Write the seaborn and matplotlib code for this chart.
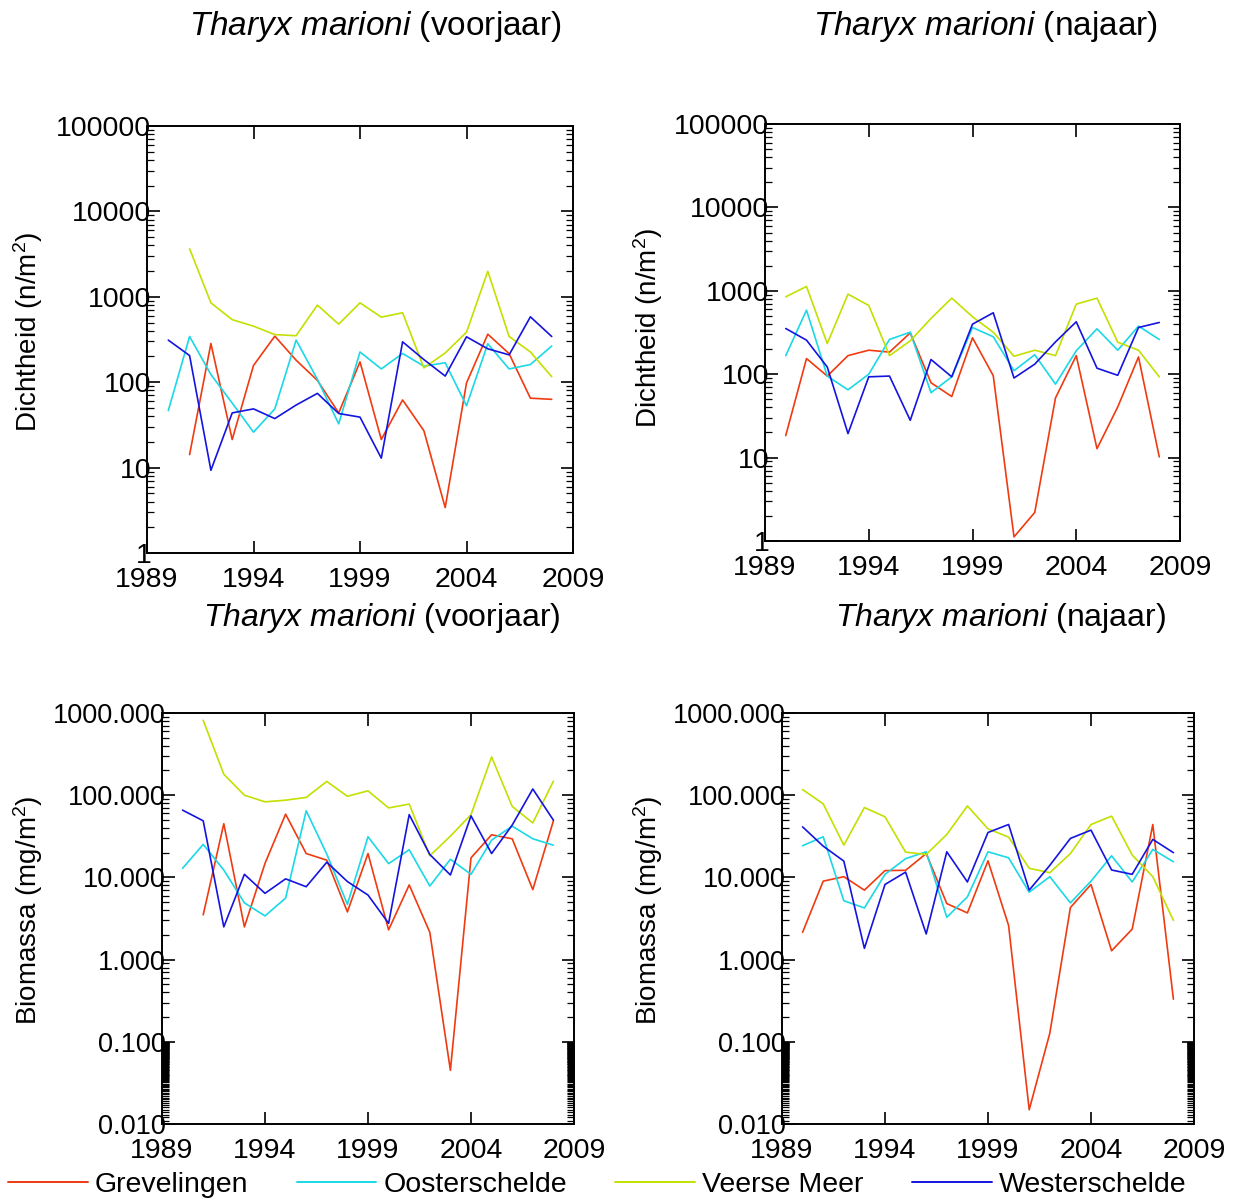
import numpy as np
import pandas as pd
import matplotlib
matplotlib.use("Agg")
import matplotlib.pyplot as plt
import matplotlib.ticker as mticker
from matplotlib.lines import Line2D
import seaborn as sns

nan = np.nan
years = list(range(1990, 2009))
areas = ["Grevelingen", "Oosterschelde", "Veerse Meer", "Westerschelde"]
colors = {"Grevelingen": "#f03a10", "Oosterschelde": "#1ad8e6",
          "Veerse Meer": "#c4e000", "Westerschelde": "#1414e0"}

# Dichtheid voorjaar (n/m2)
dens_spring_grev = [nan, 14.2, 284, 21.3, 157, 346, 181, 105, 43.7, 173, 21.3, 62, 27, 3.4, 98, 365, 216, 65, 63]
dens_spring_oost = [46.5, 343, 123, 57, 26, 48.7, 311, 108, 32.5, 226, 143, 217, 154, 169, 53, 282, 143, 161, 265]
dens_spring_veer = [nan, 3650, 850, 540, 453, 361, 350, 800, 478, 850, 578, 650, 147, 220, 385, 1990, 343, 226, 116]
dens_spring_west = [311, 205, 9.3, 43.7, 48.7, 37.5, 54, 74, 43, 39, 12.9, 297, 184, 118, 340, 246, 209, 583, 343]

# Dichtheid najaar (n/m2)
dens_autumn_grev = [18.4, 154, 95, 167, 194, 184, 313, 79, 54, 273, 96, 1.12, 2.2, 52, 167, 12.8, 40.5, 161, 10.2]
dens_autumn_oost = [167, 586, 95, 65, 100, 261, 319, 60, 93, 363, 281, 110, 171, 76, 191, 350, 194, 377, 261]
dens_autumn_veer = [847, 1127, 233, 912, 667, 167, 251, 466, 817, 488, 319, 164, 194, 167, 692, 817, 242, 194, 93]
dens_autumn_west = [353, 256, 122, 19.4, 93, 95, 28, 150, 93, 398, 545, 90, 132, 244, 425, 118, 97, 363, 417]

# Biomassa voorjaar (mg/m2)
bio_spring_grev = [nan, 3.5, 45, 2.5, 14.8, 58.8, 19.5, 16.2, 3.8, 19.5, 2.3, 8.1, 2.15, 0.045, 17.3, 33, 29.5, 7.1, 48.8]
bio_spring_oost = [12.9, 25.2, 12.3, 4.9, 3.4, 5.6, 64.6, 19.2, 4.7, 31.2, 14.7, 21.7, 7.85, 16.6, 10.9, 28.4, 42, 29.5, 24.7]
bio_spring_veer = [nan, 815, 180, 100, 83, 87, 94, 147, 97, 113, 70, 78, 18.3, 31.8, 58, 292, 73, 46, 148]
bio_spring_west = [65.8, 48.8, 2.5, 10.9, 6.4, 9.6, 7.7, 15.3, 8.9, 6.1, 2.76, 58, 19, 10.7, 56, 19.5, 43.3, 119, 49.7]

# Biomassa najaar (mg/m2)
bio_autumn_grev = [2.15, 9.0, 10.2, 7.0, 12.1, 12.2, 19.5, 4.8, 3.7, 15.9, 2.6, 0.0149, 0.127, 4.3, 8.2, 1.28, 2.35, 44, 0.33]
bio_autumn_oost = [24.3, 31.2, 5.2, 4.25, 10.9, 16.9, 20.5, 3.27, 5.8, 20.5, 17.3, 6.6, 10.2, 4.9, 9.0, 18.3, 8.8, 21.9, 15.5]
bio_autumn_veer = [117, 78.5, 24.7, 70.8, 54.6, 20.3, 19, 33.3, 74, 39, 30.9, 12.9, 11.4, 19.5, 44, 55.6, 18.7, 10.2, 3.0]
bio_autumn_west = [41.2, 24, 15.8, 1.37, 8.2, 11.6, 2.05, 20.5, 8.8, 35.2, 44, 7.0, 14, 29.8, 37.6, 12.3, 10.9, 29, 20]

xticks = [1989, 1994, 1999, 2004, 2009]


def frame(series):
    rows = []
    for area, vals in zip(areas, series):
        for y, v in zip(years, vals):
            rows.append({"jaar": y, "waarde": v, "gebied": area})
    return pd.DataFrame(rows).dropna()


sns.set_style("white")
plt.rcParams["font.family"] = ["Liberation Sans", "DejaVu Sans"]
plt.rcParams["mathtext.fontset"] = "custom"
plt.rcParams["mathtext.rm"] = "Liberation Sans"
plt.rcParams["mathtext.it"] = "Liberation Sans:italic"
for key in ["text.color", "axes.labelcolor", "xtick.color", "ytick.color", "axes.edgecolor"]:
    plt.rcParams[key] = "black"

W, H = 1238, 1200
fig = plt.figure(figsize=(W / 100, H / 100), dpi=100)


def px_axes(l, t, r, b):
    return fig.add_axes([l / W, 1 - b / H, (r - l) / W, (b - t) / H])


panels = [
    (px_axes(147, 126, 573, 553), [dens_spring_grev, dens_spring_oost, dens_spring_veer, dens_spring_west], "dens"),
    (px_axes(765, 124, 1180, 541), [dens_autumn_grev, dens_autumn_oost, dens_autumn_veer, dens_autumn_west], "dens"),
    (px_axes(162, 713, 574, 1124), [bio_spring_grev, bio_spring_oost, bio_spring_veer, bio_spring_west], "bio"),
    (px_axes(782, 713, 1194, 1124), [bio_autumn_grev, bio_autumn_oost, bio_autumn_veer, bio_autumn_west], "bio"),
]

for ax, series, kind in panels:
    df = frame(series)
    sns.lineplot(data=df, x="jaar", y="waarde", hue="gebied", hue_order=areas,
                 palette=colors, estimator=None, legend=False, linewidth=1.2, ax=ax)
    ax.set_yscale("log")
    ax.set_xlim(1989, 2009)
    ax.set_xticks(xticks)
    ax.set_xticklabels([str(x) for x in xticks])
    if kind == "dens":
        ax.set_ylim(1, 100000)
        ax.yaxis.set_major_locator(mticker.FixedLocator([1, 10, 100, 1000, 10000, 100000]))
        ax.yaxis.set_major_formatter(mticker.FuncFormatter(lambda v, p: f"{v:.0f}"))
        ax.yaxis.set_minor_locator(mticker.LogLocator(base=10, subs=np.arange(2, 10), numticks=20))
        ylab = 20.5
    else:
        ax.set_ylim(0.01, 1000)
        ax.yaxis.set_major_locator(mticker.FixedLocator([0.01, 0.1, 1, 10, 100, 1000]))
        ax.yaxis.set_major_formatter(mticker.FuncFormatter(lambda v, p: f"{v:.3f}"))
        minors = [m * 10.0 ** e for e in range(-1, 3) for m in range(2, 10)]
        minors += list(np.arange(0.011, 0.0995, 0.001))
        ax.yaxis.set_minor_locator(mticker.FixedLocator(minors))
        ylab = 19.5
    ax.yaxis.set_minor_formatter(mticker.NullFormatter())
    ax.xaxis.set_minor_locator(mticker.NullLocator())
    ax.set_xlabel("")
    ax.set_ylabel("")
    for s in ax.spines.values():
        s.set_visible(True)
        s.set_linewidth(1.4)
        s.set_color("black")
    ax.tick_params(axis="both", which="both", direction="in", top=True, right=True,
                   left=True, bottom=True, colors="black", labelcolor="black")
    ax.tick_params(axis="x", which="major", length=9, width=1.2, labelsize=20.5, pad=10)
    ax.tick_params(axis="y", which="major", length=9, width=1.2, labelsize=ylab, pad=-3)
    ax.tick_params(axis="y", which="minor", length=5, width=0.9)
    ax.patch.set_alpha(0)

# titles
fig.text(375 / W, 1 - 27 / H, r"$\it{Tharyx\ marioni}$ (voorjaar)", ha="center", va="center", fontsize=24)
fig.text(985 / W, 1 - 27 / H, r"$\it{Tharyx\ marioni}$ (najaar)", ha="center", va="center", fontsize=24)
fig.text(382 / W, 1 - 618 / H, r"$\it{Tharyx\ marioni}$ (voorjaar)", ha="center", va="center", fontsize=23)
fig.text(1000 / W, 1 - 618 / H, r"$\it{Tharyx\ marioni}$ (najaar)", ha="center", va="center", fontsize=23)

# y labels
fig.text(28 / W, 1 - 332 / H, r"Dichtheid (n/m$^2$)", rotation=90, ha="center", va="center", fontsize=20)
fig.text(648 / W, 1 - 328 / H, r"Dichtheid (n/m$^2$)", rotation=90, ha="center", va="center", fontsize=20)
fig.text(28 / W, 1 - 910 / H, r"Biomassa (mg/m$^2$)", rotation=90, ha="center", va="center", fontsize=20)
fig.text(648 / W, 1 - 910 / H, r"Biomassa (mg/m$^2$)", rotation=90, ha="center", va="center", fontsize=20)

handles = [Line2D([0], [0], color=colors[a], lw=1.4) for a in areas]
fig.legend(handles, areas, loc="center left", bbox_to_anchor=(0.004, 1 - 1185 / H), ncol=4,
           frameon=False, fontsize=20.5, handlelength=2.8, handletextpad=0.25,
           columnspacing=1.7, borderaxespad=0, borderpad=0.1)

fig.savefig("out.png", dpi=100)
